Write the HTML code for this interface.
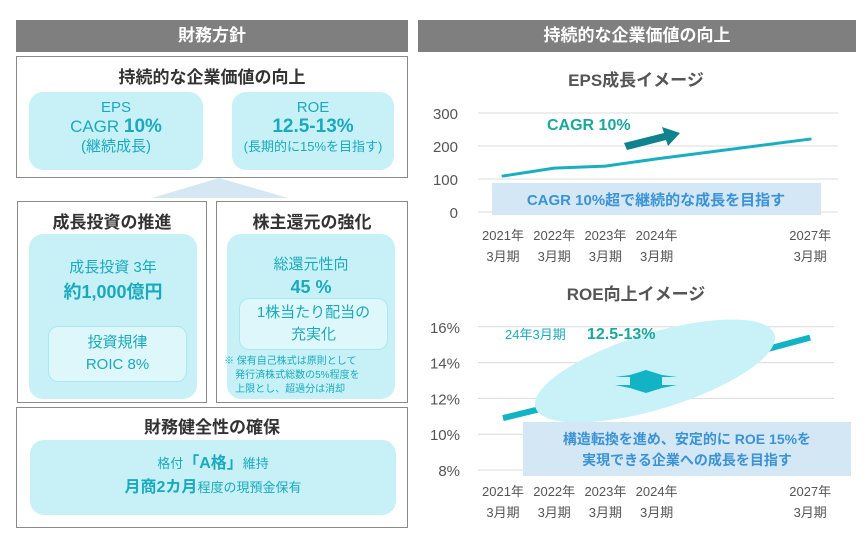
<!DOCTYPE html>
<html><head><meta charset="utf-8">
<style>
body{margin:0;width:866px;height:538px;background:#fff;position:relative;overflow:hidden;font-family:"Liberation Sans","Noto Sans CJK JP",sans-serif;}
.a{position:absolute;box-sizing:border-box;}
.hdr{background:#7f7f7f;color:#fff;font-weight:bold;font-size:17px;text-align:center;line-height:32px;}
.box{border:1.5px solid #8a8a8a;background:#fff;}
.ttl{font-weight:bold;font-size:17px;color:#333;text-align:center;}
.pill{background:#c8f1f7;border-radius:14px;color:#1aa9bd;text-align:center;}
.sub{background:#def7fb;border:1.5px solid #a9e8f1;border-radius:10px;color:#1aa9bd;text-align:center;}
svg text{font-family:"Liberation Sans","Noto Sans CJK JP",sans-serif;}
</style></head><body>
<div class="a hdr" style="left:16px;top:20px;width:392px;height:32px;">財務方針</div>
<div class="a hdr" style="left:418px;top:20px;width:438px;height:32px;">持続的な企業価値の向上</div>

<div class="a box" style="left:16px;top:56px;width:392px;height:122px;">
 <div class="ttl" style="margin-top:6px;">持続的な企業価値の向上</div>
</div>
<div class="a pill" style="left:29px;top:92px;width:174px;height:78px;padding-top:6px;font-size:15px;line-height:19px;">EPS<br><span style="font-size:17px">CAGR <b style="font-size:19px">10%</b></span><br>(継続成長)</div>
<div class="a pill" style="left:232px;top:92px;width:162px;height:78px;padding-top:6px;font-size:15px;line-height:19px;">ROE<br><b style="font-size:19px">12.5-13%</b><br><span style="font-size:13px">(長期的に15%を目指す)</span></div>
<svg class="a" style="left:150px;top:177px" width="140" height="22"><polygon points="69,1 2,21 138,21" fill="#d6e7f4"/></svg>

<div class="a box" style="left:17px;top:201px;width:190px;height:202px;"><div class="ttl" style="margin-top:6px">成長投資の推進</div></div>
<div class="a pill" style="left:29px;top:234px;width:168px;height:165px;padding-top:22px;font-size:15px;line-height:24px;">成長投資 3年<br><b style="font-size:18px">約1,000億円</b></div>
<div class="a sub" style="left:48px;top:326px;width:139px;height:56px;padding-top:5px;font-size:15px;line-height:22px;">投資規律<br>ROIC 8%</div>

<div class="a box" style="left:216px;top:201px;width:192px;height:202px;"><div class="ttl" style="margin-top:6px">株主還元の強化</div></div>
<div class="a pill" style="left:227px;top:234px;width:168px;height:165px;padding-top:20px;font-size:15px;line-height:22px;">総還元性向<br><b style="font-size:18px">45 %</b></div>
<div class="a sub" style="left:239px;top:298px;width:149px;height:52px;padding-top:3px;font-size:15px;line-height:22px;">1株当たり配当の<br>充実化</div>
<div class="a" style="left:224px;top:355px;width:190px;font-size:10px;line-height:14px;color:#1aa9bd;">※ 保有自己株式は原則として<br>&nbsp;&nbsp;&nbsp;&nbsp;発行済株式総数の5%程度を<br>&nbsp;&nbsp;&nbsp;&nbsp;上限とし、超過分は消却</div>

<div class="a box" style="left:16px;top:407px;width:392px;height:121px;"><div class="ttl" style="margin-top:5px">財務健全性の確保</div></div>
<div class="a pill" style="left:30px;top:440px;width:366px;height:75px;padding-top:12px;font-size:13px;line-height:24px;">格付<b style="font-size:16px">「A格」</b>維持<br><b style="font-size:16px">月商2カ月</b>程度の現預金保有</div>

<svg class="a" style="left:0;top:0" width="866" height="538">
<g id="eps"></g><g id="roe"></g>
</svg>
<script>
const years=[2021,2022,2023,2024,2027];
const epsValues=[109,133,139,161,221];
const epsTicks=[0,100,200,300];
const roeValues=[10.9,11.6,12.4,13.1,15.4];
const roeTicks=[8,10,12,14,16];
const NS="http://www.w3.org/2000/svg";
function mk(p,t,a,txt){const e=document.createElementNS(NS,t);for(const k in a)e.setAttribute(k,a[k]);if(txt!=null)e.textContent=txt;p.appendChild(e);return e;}
const xs=y=>503+(y-2021)*51.2;
function xlabels(g,y0){years.forEach(y=>{
 const t=mk(g,'text',{x:xs(y),y:y0,'text-anchor':'middle','font-size':13,fill:'#555'},y+'年');
 
 
 const t2=mk(g,'text',{x:xs(y),y:y0+21,'text-anchor':'middle','font-size':13,fill:'#555'},'3月期');
 
 
});}
// EPS
const ge=document.getElementById('eps');
const ey=v=>212-v*0.33;
let t=mk(ge,'text',{x:636,y:86,'text-anchor':'middle','font-size':17,'font-weight':'bold',fill:'#555'},'EPS成長イメージ');

epsTicks.forEach(v=>{
 const l=mk(ge,'line',{x1:478,x2:838,y1:ey(v),y2:ey(v),stroke:'#dcdcdc','stroke-width':1});
 
 const tt=mk(ge,'text',{x:458,y:ey(v)+6,'text-anchor':'end','font-size':15,fill:'#555'},v);
 
});
let pl=mk(ge,'polyline',{points:years.map((y,i)=>xs(y)+','+ey(epsValues[i])).join(' '),fill:'none',stroke:'#1aafbf','stroke-width':3,'stroke-linecap':'round'});

t=mk(ge,'text',{x:547,y:130,'font-size':16,'font-weight':'bold',fill:'#1aa89c'},'CAGR 10%');

let ar=mk(ge,'polygon',{points:'624,143 664,133 662,127 680,133 668,146 666,140 627,150',fill:'#10818e'});

let bx=mk(ge,'rect',{x:492,y:183,width:329,height:32,fill:'#d3e7f5'});

t=mk(ge,'text',{x:656,y:205,'text-anchor':'middle','font-size':15,'font-weight':'bold',fill:'#3b92d4'},'CAGR 10%超で継続的な成長を目指す');

xlabels(ge,240);
// ROE
const gr=document.getElementById('roe');
const ry=v=>470-(v-8)*17.9;
t=mk(gr,'text',{x:636,y:300,'text-anchor':'middle','font-size':17,'font-weight':'bold',fill:'#555'},'ROE向上イメージ');

roeTicks.forEach(v=>{
 const l=mk(gr,'line',{x1:478,x2:834,y1:ry(v),y2:ry(v),stroke:'#dcdcdc','stroke-width':1});
 
 const tt=mk(gr,'text',{x:460,y:ry(v)+6,'text-anchor':'end','font-size':15,fill:'#555'},v+'%');
 
});
pl=mk(gr,'polyline',{points:years.map((y,i)=>xs(y)+','+ry(roeValues[i])).join(' '),fill:'none',stroke:'#12b3c4','stroke-width':6});

let el=mk(gr,'ellipse',{cx:655,cy:371,rx:125,ry:38,fill:'#c8f1f8',transform:'rotate(-17 655 371)'});

ar=mk(gr,'polygon',{points:'615,377 630,375 646,370 662,375 677,377 662,377 662,385 677,385 662,388 646,393 630,388 615,385 630,385 630,377',fill:'#12b3c4'});

t=mk(gr,'text',{x:505,y:339,'font-size':13,fill:'#1aa9bd'},'24年3月期');

t=mk(gr,'text',{x:587,y:339,'font-size':16,'font-weight':'bold',fill:'#1aa89c'},'12.5-13%');

bx=mk(gr,'rect',{x:523,y:422,width:328,height:54,fill:'#d3e7f5'});

t=mk(gr,'text',{x:687,y:444,'text-anchor':'middle','font-size':14,'font-weight':'bold',fill:'#3b92d4'},'構造転換を進め、安定的に ROE 15%を');

t=mk(gr,'text',{x:687,y:465,'text-anchor':'middle','font-size':14,'font-weight':'bold',fill:'#3b92d4'},'実現できる企業への成長を目指す');

xlabels(gr,496);
</script>
</body></html>
